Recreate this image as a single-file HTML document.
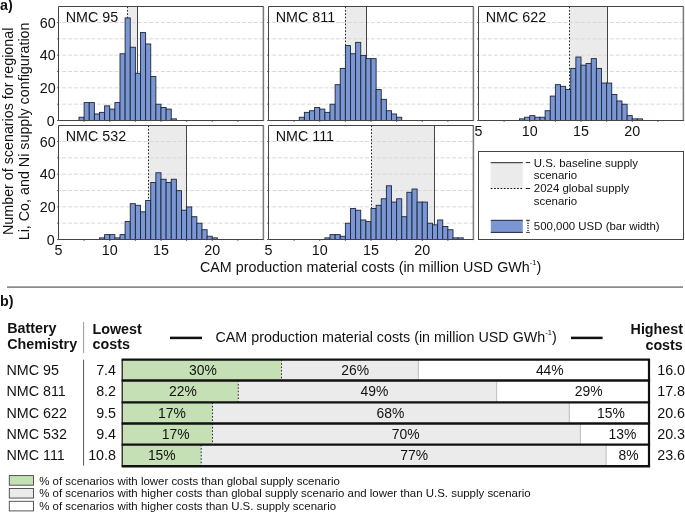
<!DOCTYPE html><html><head><meta charset="utf-8"><style>html,body{margin:0;padding:0;background:#fff;}svg{display:block;will-change:transform;}text{font-family:"Liberation Sans",sans-serif;fill:#111;}</style></head><body>
<svg width="685" height="513" viewBox="0 0 685 513">
<rect width="685" height="513" fill="#fff"/>
<text x="0.05" y="10.4" font-size="14.3" font-weight="bold">a)</text>
<rect x="127.50" y="6.50" width="10.00" height="114.00" fill="#ebebeb"/>
<line x1="57.00" x2="58.50" y1="120.50" y2="120.50" stroke="#444444" stroke-width="0.8"/>
<line x1="59.50" x2="263.50" y1="104.17" y2="104.17" stroke="#d8d8d8" stroke-width="1" stroke-dasharray="3.9 1.9" stroke-dashoffset="3.0"/>
<line x1="57.00" x2="58.50" y1="104.17" y2="104.17" stroke="#444444" stroke-width="0.8"/>
<line x1="59.50" x2="263.50" y1="87.83" y2="87.83" stroke="#d8d8d8" stroke-width="1" stroke-dasharray="3.9 1.9" stroke-dashoffset="3.0"/>
<line x1="57.00" x2="58.50" y1="87.83" y2="87.83" stroke="#444444" stroke-width="0.8"/>
<line x1="59.50" x2="263.50" y1="71.50" y2="71.50" stroke="#d8d8d8" stroke-width="1" stroke-dasharray="3.9 1.9" stroke-dashoffset="3.0"/>
<line x1="57.00" x2="58.50" y1="71.50" y2="71.50" stroke="#444444" stroke-width="0.8"/>
<line x1="59.50" x2="263.50" y1="55.17" y2="55.17" stroke="#d8d8d8" stroke-width="1" stroke-dasharray="3.9 1.9" stroke-dashoffset="3.0"/>
<line x1="57.00" x2="58.50" y1="55.17" y2="55.17" stroke="#444444" stroke-width="0.8"/>
<line x1="59.50" x2="263.50" y1="38.84" y2="38.84" stroke="#d8d8d8" stroke-width="1" stroke-dasharray="3.9 1.9" stroke-dashoffset="3.0"/>
<line x1="57.00" x2="58.50" y1="38.84" y2="38.84" stroke="#444444" stroke-width="0.8"/>
<line x1="59.50" x2="263.50" y1="22.50" y2="22.50" stroke="#d8d8d8" stroke-width="1" stroke-dasharray="3.9 1.9" stroke-dashoffset="3.0"/>
<line x1="57.00" x2="58.50" y1="22.50" y2="22.50" stroke="#444444" stroke-width="0.8"/>
<line x1="127.50" x2="127.50" y1="6.50" y2="120.50" stroke="#111" stroke-width="0.9" stroke-dasharray="1.7 1.7"/>
<line x1="137.50" x2="137.50" y1="6.50" y2="120.50" stroke="#444" stroke-width="1"/>
<rect x="79.00" y="117.24" width="5.12" height="3.26" fill="#7b97d3" stroke="#1c2538" stroke-width="0.9"/>
<rect x="84.12" y="102.59" width="5.12" height="17.91" fill="#7b97d3" stroke="#1c2538" stroke-width="0.9"/>
<rect x="89.25" y="102.59" width="5.12" height="17.91" fill="#7b97d3" stroke="#1c2538" stroke-width="0.9"/>
<rect x="94.38" y="113.99" width="5.12" height="6.51" fill="#7b97d3" stroke="#1c2538" stroke-width="0.9"/>
<rect x="99.50" y="112.36" width="5.12" height="8.14" fill="#7b97d3" stroke="#1c2538" stroke-width="0.9"/>
<rect x="104.62" y="105.85" width="5.12" height="14.65" fill="#7b97d3" stroke="#1c2538" stroke-width="0.9"/>
<rect x="109.75" y="109.10" width="5.12" height="11.40" fill="#7b97d3" stroke="#1c2538" stroke-width="0.9"/>
<rect x="114.88" y="102.59" width="5.12" height="17.91" fill="#7b97d3" stroke="#1c2538" stroke-width="0.9"/>
<rect x="120.00" y="53.75" width="5.12" height="66.75" fill="#7b97d3" stroke="#1c2538" stroke-width="0.9"/>
<rect x="125.12" y="17.94" width="5.12" height="102.56" fill="#7b97d3" stroke="#1c2538" stroke-width="0.9"/>
<rect x="130.25" y="47.24" width="5.12" height="73.26" fill="#7b97d3" stroke="#1c2538" stroke-width="0.9"/>
<rect x="135.38" y="73.29" width="5.12" height="47.21" fill="#7b97d3" stroke="#1c2538" stroke-width="0.9"/>
<rect x="140.50" y="32.59" width="5.12" height="87.91" fill="#7b97d3" stroke="#1c2538" stroke-width="0.9"/>
<rect x="145.62" y="43.98" width="5.12" height="76.52" fill="#7b97d3" stroke="#1c2538" stroke-width="0.9"/>
<rect x="150.75" y="76.54" width="5.12" height="43.96" fill="#7b97d3" stroke="#1c2538" stroke-width="0.9"/>
<rect x="155.88" y="104.22" width="5.12" height="16.28" fill="#7b97d3" stroke="#1c2538" stroke-width="0.9"/>
<rect x="161.00" y="107.48" width="5.12" height="13.02" fill="#7b97d3" stroke="#1c2538" stroke-width="0.9"/>
<rect x="166.12" y="109.10" width="5.12" height="11.40" fill="#7b97d3" stroke="#1c2538" stroke-width="0.9"/>
<rect x="171.25" y="118.87" width="5.12" height="1.63" fill="#7b97d3" stroke="#1c2538" stroke-width="0.9"/>
<line x1="84.12" x2="84.12" y1="120.50" y2="122.00" stroke="#444444" stroke-width="0.8"/>
<line x1="109.75" x2="109.75" y1="120.50" y2="122.00" stroke="#444444" stroke-width="0.8"/>
<line x1="135.38" x2="135.38" y1="120.50" y2="122.00" stroke="#444444" stroke-width="0.8"/>
<line x1="161.00" x2="161.00" y1="120.50" y2="122.00" stroke="#444444" stroke-width="0.8"/>
<line x1="186.62" x2="186.62" y1="120.50" y2="122.00" stroke="#444444" stroke-width="0.8"/>
<line x1="212.25" x2="212.25" y1="120.50" y2="122.00" stroke="#444444" stroke-width="0.8"/>
<line x1="237.88" x2="237.88" y1="120.50" y2="122.00" stroke="#444444" stroke-width="0.8"/>
<line x1="263.40" x2="263.40" y1="6.50" y2="121.10" stroke="#7a7a7a" stroke-width="1.5"/>
<path d="M263.50,6.50 H58.50 V120.50 H263.50" fill="none" stroke="#444444" stroke-width="1"/>
<text x="65.80" y="22.10" font-size="14.3">NMC 95</text>
<text x="54.80" y="125.50" font-size="14.3" text-anchor="end">0</text>
<text x="55.70" y="92.83" font-size="14.3" text-anchor="end">20</text>
<text x="55.70" y="60.17" font-size="14.3" text-anchor="end">40</text>
<text x="55.70" y="27.50" font-size="14.3" text-anchor="end">60</text>
<rect x="345.50" y="6.50" width="21.00" height="114.00" fill="#ebebeb"/>
<line x1="267.00" x2="268.50" y1="120.50" y2="120.50" stroke="#444444" stroke-width="0.8"/>
<line x1="269.50" x2="473.50" y1="104.17" y2="104.17" stroke="#d8d8d8" stroke-width="1" stroke-dasharray="3.9 1.9" stroke-dashoffset="3.0"/>
<line x1="267.00" x2="268.50" y1="104.17" y2="104.17" stroke="#444444" stroke-width="0.8"/>
<line x1="269.50" x2="473.50" y1="87.83" y2="87.83" stroke="#d8d8d8" stroke-width="1" stroke-dasharray="3.9 1.9" stroke-dashoffset="3.0"/>
<line x1="267.00" x2="268.50" y1="87.83" y2="87.83" stroke="#444444" stroke-width="0.8"/>
<line x1="269.50" x2="473.50" y1="71.50" y2="71.50" stroke="#d8d8d8" stroke-width="1" stroke-dasharray="3.9 1.9" stroke-dashoffset="3.0"/>
<line x1="267.00" x2="268.50" y1="71.50" y2="71.50" stroke="#444444" stroke-width="0.8"/>
<line x1="269.50" x2="473.50" y1="55.17" y2="55.17" stroke="#d8d8d8" stroke-width="1" stroke-dasharray="3.9 1.9" stroke-dashoffset="3.0"/>
<line x1="267.00" x2="268.50" y1="55.17" y2="55.17" stroke="#444444" stroke-width="0.8"/>
<line x1="269.50" x2="473.50" y1="38.84" y2="38.84" stroke="#d8d8d8" stroke-width="1" stroke-dasharray="3.9 1.9" stroke-dashoffset="3.0"/>
<line x1="267.00" x2="268.50" y1="38.84" y2="38.84" stroke="#444444" stroke-width="0.8"/>
<line x1="269.50" x2="473.50" y1="22.50" y2="22.50" stroke="#d8d8d8" stroke-width="1" stroke-dasharray="3.9 1.9" stroke-dashoffset="3.0"/>
<line x1="267.00" x2="268.50" y1="22.50" y2="22.50" stroke="#444444" stroke-width="0.8"/>
<line x1="345.50" x2="345.50" y1="6.50" y2="120.50" stroke="#111" stroke-width="0.9" stroke-dasharray="1.7 1.7"/>
<line x1="366.50" x2="366.50" y1="6.50" y2="120.50" stroke="#444" stroke-width="1"/>
<rect x="299.25" y="117.24" width="5.12" height="3.26" fill="#7b97d3" stroke="#1c2538" stroke-width="0.9"/>
<rect x="304.38" y="112.36" width="5.12" height="8.14" fill="#7b97d3" stroke="#1c2538" stroke-width="0.9"/>
<rect x="309.50" y="110.73" width="5.12" height="9.77" fill="#7b97d3" stroke="#1c2538" stroke-width="0.9"/>
<rect x="314.62" y="107.48" width="5.12" height="13.02" fill="#7b97d3" stroke="#1c2538" stroke-width="0.9"/>
<rect x="319.75" y="109.10" width="5.12" height="11.40" fill="#7b97d3" stroke="#1c2538" stroke-width="0.9"/>
<rect x="324.88" y="112.36" width="5.12" height="8.14" fill="#7b97d3" stroke="#1c2538" stroke-width="0.9"/>
<rect x="330.00" y="104.22" width="5.12" height="16.28" fill="#7b97d3" stroke="#1c2538" stroke-width="0.9"/>
<rect x="335.12" y="84.68" width="5.12" height="35.82" fill="#7b97d3" stroke="#1c2538" stroke-width="0.9"/>
<rect x="340.25" y="68.40" width="5.12" height="52.10" fill="#7b97d3" stroke="#1c2538" stroke-width="0.9"/>
<rect x="345.38" y="45.61" width="5.12" height="74.89" fill="#7b97d3" stroke="#1c2538" stroke-width="0.9"/>
<rect x="350.50" y="53.75" width="5.12" height="66.75" fill="#7b97d3" stroke="#1c2538" stroke-width="0.9"/>
<rect x="355.62" y="42.36" width="5.12" height="78.14" fill="#7b97d3" stroke="#1c2538" stroke-width="0.9"/>
<rect x="360.75" y="55.38" width="5.12" height="65.12" fill="#7b97d3" stroke="#1c2538" stroke-width="0.9"/>
<rect x="365.88" y="58.64" width="5.12" height="61.86" fill="#7b97d3" stroke="#1c2538" stroke-width="0.9"/>
<rect x="371.00" y="58.64" width="5.12" height="61.86" fill="#7b97d3" stroke="#1c2538" stroke-width="0.9"/>
<rect x="376.12" y="89.57" width="5.12" height="30.93" fill="#7b97d3" stroke="#1c2538" stroke-width="0.9"/>
<rect x="381.25" y="99.34" width="5.12" height="21.16" fill="#7b97d3" stroke="#1c2538" stroke-width="0.9"/>
<rect x="386.38" y="110.73" width="5.12" height="9.77" fill="#7b97d3" stroke="#1c2538" stroke-width="0.9"/>
<rect x="391.50" y="113.99" width="5.12" height="6.51" fill="#7b97d3" stroke="#1c2538" stroke-width="0.9"/>
<rect x="396.62" y="117.24" width="5.12" height="3.26" fill="#7b97d3" stroke="#1c2538" stroke-width="0.9"/>
<line x1="294.12" x2="294.12" y1="120.50" y2="122.00" stroke="#444444" stroke-width="0.8"/>
<line x1="319.75" x2="319.75" y1="120.50" y2="122.00" stroke="#444444" stroke-width="0.8"/>
<line x1="345.38" x2="345.38" y1="120.50" y2="122.00" stroke="#444444" stroke-width="0.8"/>
<line x1="371.00" x2="371.00" y1="120.50" y2="122.00" stroke="#444444" stroke-width="0.8"/>
<line x1="396.62" x2="396.62" y1="120.50" y2="122.00" stroke="#444444" stroke-width="0.8"/>
<line x1="422.25" x2="422.25" y1="120.50" y2="122.00" stroke="#444444" stroke-width="0.8"/>
<line x1="447.88" x2="447.88" y1="120.50" y2="122.00" stroke="#444444" stroke-width="0.8"/>
<line x1="473.40" x2="473.40" y1="6.50" y2="121.10" stroke="#7a7a7a" stroke-width="1.5"/>
<path d="M473.50,6.50 H268.50 V120.50 H473.50" fill="none" stroke="#444444" stroke-width="1"/>
<text x="275.80" y="22.10" font-size="14.3">NMC 811</text>
<rect x="569.50" y="6.50" width="38.00" height="114.00" fill="#ebebeb"/>
<line x1="477.00" x2="478.50" y1="120.50" y2="120.50" stroke="#444444" stroke-width="0.8"/>
<line x1="479.50" x2="683.50" y1="104.17" y2="104.17" stroke="#d8d8d8" stroke-width="1" stroke-dasharray="3.9 1.9" stroke-dashoffset="3.0"/>
<line x1="477.00" x2="478.50" y1="104.17" y2="104.17" stroke="#444444" stroke-width="0.8"/>
<line x1="479.50" x2="683.50" y1="87.83" y2="87.83" stroke="#d8d8d8" stroke-width="1" stroke-dasharray="3.9 1.9" stroke-dashoffset="3.0"/>
<line x1="477.00" x2="478.50" y1="87.83" y2="87.83" stroke="#444444" stroke-width="0.8"/>
<line x1="479.50" x2="683.50" y1="71.50" y2="71.50" stroke="#d8d8d8" stroke-width="1" stroke-dasharray="3.9 1.9" stroke-dashoffset="3.0"/>
<line x1="477.00" x2="478.50" y1="71.50" y2="71.50" stroke="#444444" stroke-width="0.8"/>
<line x1="479.50" x2="683.50" y1="55.17" y2="55.17" stroke="#d8d8d8" stroke-width="1" stroke-dasharray="3.9 1.9" stroke-dashoffset="3.0"/>
<line x1="477.00" x2="478.50" y1="55.17" y2="55.17" stroke="#444444" stroke-width="0.8"/>
<line x1="479.50" x2="683.50" y1="38.84" y2="38.84" stroke="#d8d8d8" stroke-width="1" stroke-dasharray="3.9 1.9" stroke-dashoffset="3.0"/>
<line x1="477.00" x2="478.50" y1="38.84" y2="38.84" stroke="#444444" stroke-width="0.8"/>
<line x1="479.50" x2="683.50" y1="22.50" y2="22.50" stroke="#d8d8d8" stroke-width="1" stroke-dasharray="3.9 1.9" stroke-dashoffset="3.0"/>
<line x1="477.00" x2="478.50" y1="22.50" y2="22.50" stroke="#444444" stroke-width="0.8"/>
<line x1="569.50" x2="569.50" y1="6.50" y2="120.50" stroke="#111" stroke-width="0.9" stroke-dasharray="1.7 1.7"/>
<line x1="607.50" x2="607.50" y1="6.50" y2="120.50" stroke="#444" stroke-width="1"/>
<rect x="519.50" y="118.87" width="5.12" height="1.63" fill="#7b97d3" stroke="#1c2538" stroke-width="0.9"/>
<rect x="524.62" y="117.24" width="5.12" height="3.26" fill="#7b97d3" stroke="#1c2538" stroke-width="0.9"/>
<rect x="529.75" y="115.62" width="5.12" height="4.88" fill="#7b97d3" stroke="#1c2538" stroke-width="0.9"/>
<rect x="534.88" y="117.24" width="5.12" height="3.26" fill="#7b97d3" stroke="#1c2538" stroke-width="0.9"/>
<rect x="540.00" y="117.24" width="5.12" height="3.26" fill="#7b97d3" stroke="#1c2538" stroke-width="0.9"/>
<rect x="545.12" y="110.73" width="5.12" height="9.77" fill="#7b97d3" stroke="#1c2538" stroke-width="0.9"/>
<rect x="550.25" y="96.08" width="5.12" height="24.42" fill="#7b97d3" stroke="#1c2538" stroke-width="0.9"/>
<rect x="555.38" y="84.68" width="5.12" height="35.82" fill="#7b97d3" stroke="#1c2538" stroke-width="0.9"/>
<rect x="560.50" y="86.31" width="5.12" height="34.19" fill="#7b97d3" stroke="#1c2538" stroke-width="0.9"/>
<rect x="565.62" y="89.57" width="5.12" height="30.93" fill="#7b97d3" stroke="#1c2538" stroke-width="0.9"/>
<rect x="570.75" y="68.40" width="5.12" height="52.10" fill="#7b97d3" stroke="#1c2538" stroke-width="0.9"/>
<rect x="575.88" y="57.01" width="5.12" height="63.49" fill="#7b97d3" stroke="#1c2538" stroke-width="0.9"/>
<rect x="581.00" y="65.15" width="5.12" height="55.35" fill="#7b97d3" stroke="#1c2538" stroke-width="0.9"/>
<rect x="586.12" y="63.52" width="5.12" height="56.98" fill="#7b97d3" stroke="#1c2538" stroke-width="0.9"/>
<rect x="591.25" y="58.64" width="5.12" height="61.86" fill="#7b97d3" stroke="#1c2538" stroke-width="0.9"/>
<rect x="596.38" y="68.40" width="5.12" height="52.10" fill="#7b97d3" stroke="#1c2538" stroke-width="0.9"/>
<rect x="601.50" y="83.06" width="5.12" height="37.44" fill="#7b97d3" stroke="#1c2538" stroke-width="0.9"/>
<rect x="606.62" y="83.06" width="5.12" height="37.44" fill="#7b97d3" stroke="#1c2538" stroke-width="0.9"/>
<rect x="611.75" y="94.45" width="5.12" height="26.05" fill="#7b97d3" stroke="#1c2538" stroke-width="0.9"/>
<rect x="616.88" y="100.96" width="5.12" height="19.54" fill="#7b97d3" stroke="#1c2538" stroke-width="0.9"/>
<rect x="622.00" y="104.22" width="5.12" height="16.28" fill="#7b97d3" stroke="#1c2538" stroke-width="0.9"/>
<rect x="627.12" y="115.62" width="5.12" height="4.88" fill="#7b97d3" stroke="#1c2538" stroke-width="0.9"/>
<rect x="632.25" y="118.87" width="5.12" height="1.63" fill="#7b97d3" stroke="#1c2538" stroke-width="0.9"/>
<rect x="637.38" y="118.87" width="5.12" height="1.63" fill="#7b97d3" stroke="#1c2538" stroke-width="0.9"/>
<line x1="504.12" x2="504.12" y1="120.50" y2="122.00" stroke="#444444" stroke-width="0.8"/>
<line x1="529.75" x2="529.75" y1="120.50" y2="122.00" stroke="#444444" stroke-width="0.8"/>
<line x1="555.38" x2="555.38" y1="120.50" y2="122.00" stroke="#444444" stroke-width="0.8"/>
<line x1="581.00" x2="581.00" y1="120.50" y2="122.00" stroke="#444444" stroke-width="0.8"/>
<line x1="606.62" x2="606.62" y1="120.50" y2="122.00" stroke="#444444" stroke-width="0.8"/>
<line x1="632.25" x2="632.25" y1="120.50" y2="122.00" stroke="#444444" stroke-width="0.8"/>
<line x1="657.88" x2="657.88" y1="120.50" y2="122.00" stroke="#444444" stroke-width="0.8"/>
<line x1="683.40" x2="683.40" y1="6.50" y2="121.10" stroke="#7a7a7a" stroke-width="1.5"/>
<path d="M683.50,6.50 H478.50 V120.50 H683.50" fill="none" stroke="#444444" stroke-width="1"/>
<text x="485.80" y="22.10" font-size="14.3">NMC 622</text>
<text x="478.50" y="135.50" font-size="14.3" text-anchor="middle">5</text>
<text x="529.75" y="135.50" font-size="14.3" text-anchor="middle">10</text>
<text x="581.00" y="135.50" font-size="14.3" text-anchor="middle">15</text>
<text x="632.25" y="135.50" font-size="14.3" text-anchor="middle">20</text>
<rect x="148.50" y="125.50" width="38.00" height="114.00" fill="#ebebeb"/>
<line x1="57.00" x2="58.50" y1="239.50" y2="239.50" stroke="#444444" stroke-width="0.8"/>
<line x1="59.50" x2="263.50" y1="223.17" y2="223.17" stroke="#d8d8d8" stroke-width="1" stroke-dasharray="3.9 1.9" stroke-dashoffset="3.0"/>
<line x1="57.00" x2="58.50" y1="223.17" y2="223.17" stroke="#444444" stroke-width="0.8"/>
<line x1="59.50" x2="263.50" y1="206.83" y2="206.83" stroke="#d8d8d8" stroke-width="1" stroke-dasharray="3.9 1.9" stroke-dashoffset="3.0"/>
<line x1="57.00" x2="58.50" y1="206.83" y2="206.83" stroke="#444444" stroke-width="0.8"/>
<line x1="59.50" x2="263.50" y1="190.50" y2="190.50" stroke="#d8d8d8" stroke-width="1" stroke-dasharray="3.9 1.9" stroke-dashoffset="3.0"/>
<line x1="57.00" x2="58.50" y1="190.50" y2="190.50" stroke="#444444" stroke-width="0.8"/>
<line x1="59.50" x2="263.50" y1="174.17" y2="174.17" stroke="#d8d8d8" stroke-width="1" stroke-dasharray="3.9 1.9" stroke-dashoffset="3.0"/>
<line x1="57.00" x2="58.50" y1="174.17" y2="174.17" stroke="#444444" stroke-width="0.8"/>
<line x1="59.50" x2="263.50" y1="157.84" y2="157.84" stroke="#d8d8d8" stroke-width="1" stroke-dasharray="3.9 1.9" stroke-dashoffset="3.0"/>
<line x1="57.00" x2="58.50" y1="157.84" y2="157.84" stroke="#444444" stroke-width="0.8"/>
<line x1="59.50" x2="263.50" y1="141.50" y2="141.50" stroke="#d8d8d8" stroke-width="1" stroke-dasharray="3.9 1.9" stroke-dashoffset="3.0"/>
<line x1="57.00" x2="58.50" y1="141.50" y2="141.50" stroke="#444444" stroke-width="0.8"/>
<line x1="148.50" x2="148.50" y1="125.50" y2="239.50" stroke="#111" stroke-width="0.9" stroke-dasharray="1.7 1.7"/>
<line x1="186.50" x2="186.50" y1="125.50" y2="239.50" stroke="#444" stroke-width="1"/>
<rect x="99.50" y="237.87" width="5.12" height="1.63" fill="#7b97d3" stroke="#1c2538" stroke-width="0.9"/>
<rect x="104.62" y="234.62" width="5.12" height="4.88" fill="#7b97d3" stroke="#1c2538" stroke-width="0.9"/>
<rect x="109.75" y="234.62" width="5.12" height="4.88" fill="#7b97d3" stroke="#1c2538" stroke-width="0.9"/>
<rect x="114.88" y="237.87" width="5.12" height="1.63" fill="#7b97d3" stroke="#1c2538" stroke-width="0.9"/>
<rect x="120.00" y="234.62" width="5.12" height="4.88" fill="#7b97d3" stroke="#1c2538" stroke-width="0.9"/>
<rect x="125.12" y="221.59" width="5.12" height="17.91" fill="#7b97d3" stroke="#1c2538" stroke-width="0.9"/>
<rect x="130.25" y="203.68" width="5.12" height="35.82" fill="#7b97d3" stroke="#1c2538" stroke-width="0.9"/>
<rect x="135.38" y="205.31" width="5.12" height="34.19" fill="#7b97d3" stroke="#1c2538" stroke-width="0.9"/>
<rect x="140.50" y="211.82" width="5.12" height="27.68" fill="#7b97d3" stroke="#1c2538" stroke-width="0.9"/>
<rect x="145.62" y="200.43" width="5.12" height="39.07" fill="#7b97d3" stroke="#1c2538" stroke-width="0.9"/>
<rect x="150.75" y="182.52" width="5.12" height="56.98" fill="#7b97d3" stroke="#1c2538" stroke-width="0.9"/>
<rect x="155.88" y="172.75" width="5.12" height="66.75" fill="#7b97d3" stroke="#1c2538" stroke-width="0.9"/>
<rect x="161.00" y="179.26" width="5.12" height="60.24" fill="#7b97d3" stroke="#1c2538" stroke-width="0.9"/>
<rect x="166.12" y="182.52" width="5.12" height="56.98" fill="#7b97d3" stroke="#1c2538" stroke-width="0.9"/>
<rect x="171.25" y="179.26" width="5.12" height="60.24" fill="#7b97d3" stroke="#1c2538" stroke-width="0.9"/>
<rect x="176.38" y="190.66" width="5.12" height="48.84" fill="#7b97d3" stroke="#1c2538" stroke-width="0.9"/>
<rect x="181.50" y="210.20" width="5.12" height="29.30" fill="#7b97d3" stroke="#1c2538" stroke-width="0.9"/>
<rect x="186.62" y="206.94" width="5.12" height="32.56" fill="#7b97d3" stroke="#1c2538" stroke-width="0.9"/>
<rect x="191.75" y="216.71" width="5.12" height="22.79" fill="#7b97d3" stroke="#1c2538" stroke-width="0.9"/>
<rect x="196.88" y="223.22" width="5.12" height="16.28" fill="#7b97d3" stroke="#1c2538" stroke-width="0.9"/>
<rect x="202.00" y="229.73" width="5.12" height="9.77" fill="#7b97d3" stroke="#1c2538" stroke-width="0.9"/>
<rect x="207.12" y="236.24" width="5.12" height="3.26" fill="#7b97d3" stroke="#1c2538" stroke-width="0.9"/>
<rect x="212.25" y="237.87" width="5.12" height="1.63" fill="#7b97d3" stroke="#1c2538" stroke-width="0.9"/>
<line x1="84.12" x2="84.12" y1="239.50" y2="241.00" stroke="#444444" stroke-width="0.8"/>
<line x1="109.75" x2="109.75" y1="239.50" y2="241.00" stroke="#444444" stroke-width="0.8"/>
<line x1="135.38" x2="135.38" y1="239.50" y2="241.00" stroke="#444444" stroke-width="0.8"/>
<line x1="161.00" x2="161.00" y1="239.50" y2="241.00" stroke="#444444" stroke-width="0.8"/>
<line x1="186.62" x2="186.62" y1="239.50" y2="241.00" stroke="#444444" stroke-width="0.8"/>
<line x1="212.25" x2="212.25" y1="239.50" y2="241.00" stroke="#444444" stroke-width="0.8"/>
<line x1="237.88" x2="237.88" y1="239.50" y2="241.00" stroke="#444444" stroke-width="0.8"/>
<line x1="263.40" x2="263.40" y1="125.50" y2="240.10" stroke="#7a7a7a" stroke-width="1.5"/>
<path d="M263.50,125.50 H58.50 V239.50 H263.50" fill="none" stroke="#444444" stroke-width="1"/>
<text x="65.80" y="141.10" font-size="14.3">NMC 532</text>
<text x="54.80" y="244.50" font-size="14.3" text-anchor="end">0</text>
<text x="55.70" y="211.83" font-size="14.3" text-anchor="end">20</text>
<text x="55.70" y="179.17" font-size="14.3" text-anchor="end">40</text>
<text x="55.70" y="146.50" font-size="14.3" text-anchor="end">60</text>
<text x="58.50" y="254.50" font-size="14.3" text-anchor="middle">5</text>
<text x="109.75" y="254.50" font-size="14.3" text-anchor="middle">10</text>
<text x="161.00" y="254.50" font-size="14.3" text-anchor="middle">15</text>
<text x="212.25" y="254.50" font-size="14.3" text-anchor="middle">20</text>
<rect x="371.50" y="125.50" width="63.00" height="114.00" fill="#ebebeb"/>
<line x1="267.00" x2="268.50" y1="239.50" y2="239.50" stroke="#444444" stroke-width="0.8"/>
<line x1="269.50" x2="473.50" y1="223.17" y2="223.17" stroke="#d8d8d8" stroke-width="1" stroke-dasharray="3.9 1.9" stroke-dashoffset="3.0"/>
<line x1="267.00" x2="268.50" y1="223.17" y2="223.17" stroke="#444444" stroke-width="0.8"/>
<line x1="269.50" x2="473.50" y1="206.83" y2="206.83" stroke="#d8d8d8" stroke-width="1" stroke-dasharray="3.9 1.9" stroke-dashoffset="3.0"/>
<line x1="267.00" x2="268.50" y1="206.83" y2="206.83" stroke="#444444" stroke-width="0.8"/>
<line x1="269.50" x2="473.50" y1="190.50" y2="190.50" stroke="#d8d8d8" stroke-width="1" stroke-dasharray="3.9 1.9" stroke-dashoffset="3.0"/>
<line x1="267.00" x2="268.50" y1="190.50" y2="190.50" stroke="#444444" stroke-width="0.8"/>
<line x1="269.50" x2="473.50" y1="174.17" y2="174.17" stroke="#d8d8d8" stroke-width="1" stroke-dasharray="3.9 1.9" stroke-dashoffset="3.0"/>
<line x1="267.00" x2="268.50" y1="174.17" y2="174.17" stroke="#444444" stroke-width="0.8"/>
<line x1="269.50" x2="473.50" y1="157.84" y2="157.84" stroke="#d8d8d8" stroke-width="1" stroke-dasharray="3.9 1.9" stroke-dashoffset="3.0"/>
<line x1="267.00" x2="268.50" y1="157.84" y2="157.84" stroke="#444444" stroke-width="0.8"/>
<line x1="269.50" x2="473.50" y1="141.50" y2="141.50" stroke="#d8d8d8" stroke-width="1" stroke-dasharray="3.9 1.9" stroke-dashoffset="3.0"/>
<line x1="267.00" x2="268.50" y1="141.50" y2="141.50" stroke="#444444" stroke-width="0.8"/>
<line x1="371.50" x2="371.50" y1="125.50" y2="239.50" stroke="#111" stroke-width="0.9" stroke-dasharray="1.7 1.7"/>
<line x1="434.50" x2="434.50" y1="125.50" y2="239.50" stroke="#444" stroke-width="1"/>
<rect x="324.88" y="237.87" width="5.12" height="1.63" fill="#7b97d3" stroke="#1c2538" stroke-width="0.9"/>
<rect x="330.00" y="234.62" width="5.12" height="4.88" fill="#7b97d3" stroke="#1c2538" stroke-width="0.9"/>
<rect x="335.12" y="234.62" width="5.12" height="4.88" fill="#7b97d3" stroke="#1c2538" stroke-width="0.9"/>
<rect x="340.25" y="236.24" width="5.12" height="3.26" fill="#7b97d3" stroke="#1c2538" stroke-width="0.9"/>
<rect x="345.38" y="223.22" width="5.12" height="16.28" fill="#7b97d3" stroke="#1c2538" stroke-width="0.9"/>
<rect x="350.50" y="208.57" width="5.12" height="30.93" fill="#7b97d3" stroke="#1c2538" stroke-width="0.9"/>
<rect x="355.62" y="210.20" width="5.12" height="29.30" fill="#7b97d3" stroke="#1c2538" stroke-width="0.9"/>
<rect x="360.75" y="219.96" width="5.12" height="19.54" fill="#7b97d3" stroke="#1c2538" stroke-width="0.9"/>
<rect x="365.88" y="221.59" width="5.12" height="17.91" fill="#7b97d3" stroke="#1c2538" stroke-width="0.9"/>
<rect x="371.00" y="208.57" width="5.12" height="30.93" fill="#7b97d3" stroke="#1c2538" stroke-width="0.9"/>
<rect x="376.12" y="205.31" width="5.12" height="34.19" fill="#7b97d3" stroke="#1c2538" stroke-width="0.9"/>
<rect x="381.25" y="198.80" width="5.12" height="40.70" fill="#7b97d3" stroke="#1c2538" stroke-width="0.9"/>
<rect x="386.38" y="185.78" width="5.12" height="53.72" fill="#7b97d3" stroke="#1c2538" stroke-width="0.9"/>
<rect x="391.50" y="202.06" width="5.12" height="37.44" fill="#7b97d3" stroke="#1c2538" stroke-width="0.9"/>
<rect x="396.62" y="198.80" width="5.12" height="40.70" fill="#7b97d3" stroke="#1c2538" stroke-width="0.9"/>
<rect x="401.75" y="216.71" width="5.12" height="22.79" fill="#7b97d3" stroke="#1c2538" stroke-width="0.9"/>
<rect x="406.88" y="192.29" width="5.12" height="47.21" fill="#7b97d3" stroke="#1c2538" stroke-width="0.9"/>
<rect x="412.00" y="189.03" width="5.12" height="50.47" fill="#7b97d3" stroke="#1c2538" stroke-width="0.9"/>
<rect x="417.12" y="202.06" width="5.12" height="37.44" fill="#7b97d3" stroke="#1c2538" stroke-width="0.9"/>
<rect x="422.25" y="202.06" width="5.12" height="37.44" fill="#7b97d3" stroke="#1c2538" stroke-width="0.9"/>
<rect x="427.38" y="223.22" width="5.12" height="16.28" fill="#7b97d3" stroke="#1c2538" stroke-width="0.9"/>
<rect x="432.50" y="224.85" width="5.12" height="14.65" fill="#7b97d3" stroke="#1c2538" stroke-width="0.9"/>
<rect x="437.62" y="219.96" width="5.12" height="19.54" fill="#7b97d3" stroke="#1c2538" stroke-width="0.9"/>
<rect x="442.75" y="226.48" width="5.12" height="13.02" fill="#7b97d3" stroke="#1c2538" stroke-width="0.9"/>
<rect x="447.88" y="229.73" width="5.12" height="9.77" fill="#7b97d3" stroke="#1c2538" stroke-width="0.9"/>
<rect x="453.00" y="237.87" width="5.12" height="1.63" fill="#7b97d3" stroke="#1c2538" stroke-width="0.9"/>
<rect x="458.12" y="237.87" width="5.12" height="1.63" fill="#7b97d3" stroke="#1c2538" stroke-width="0.9"/>
<line x1="294.12" x2="294.12" y1="239.50" y2="241.00" stroke="#444444" stroke-width="0.8"/>
<line x1="319.75" x2="319.75" y1="239.50" y2="241.00" stroke="#444444" stroke-width="0.8"/>
<line x1="345.38" x2="345.38" y1="239.50" y2="241.00" stroke="#444444" stroke-width="0.8"/>
<line x1="371.00" x2="371.00" y1="239.50" y2="241.00" stroke="#444444" stroke-width="0.8"/>
<line x1="396.62" x2="396.62" y1="239.50" y2="241.00" stroke="#444444" stroke-width="0.8"/>
<line x1="422.25" x2="422.25" y1="239.50" y2="241.00" stroke="#444444" stroke-width="0.8"/>
<line x1="447.88" x2="447.88" y1="239.50" y2="241.00" stroke="#444444" stroke-width="0.8"/>
<line x1="473.40" x2="473.40" y1="125.50" y2="240.10" stroke="#7a7a7a" stroke-width="1.5"/>
<path d="M473.50,125.50 H268.50 V239.50 H473.50" fill="none" stroke="#444444" stroke-width="1"/>
<text x="275.80" y="141.10" font-size="14.3">NMC 111</text>
<text x="268.50" y="254.50" font-size="14.3" text-anchor="middle">5</text>
<text x="319.75" y="254.50" font-size="14.3" text-anchor="middle">10</text>
<text x="371.00" y="254.50" font-size="14.3" text-anchor="middle">15</text>
<text x="422.25" y="254.50" font-size="14.3" text-anchor="middle">20</text>
<rect x="478.5" y="151.5" width="205" height="88" fill="none" stroke="#444" stroke-width="1"/>
<rect x="490.7" y="162.7" width="32.1" height="25.8" fill="#ebebeb"/>
<line x1="490.7" x2="522.8" y1="162.7" y2="162.7" stroke="#222" stroke-width="1"/>
<line x1="490.7" x2="522.8" y1="188.5" y2="188.5" stroke="#111" stroke-width="1" stroke-dasharray="1.7 1.6"/>
<line x1="525.8" x2="530.1" y1="162.6" y2="162.6" stroke="#222" stroke-width="1"/>
<line x1="525.8" x2="530.1" y1="188.5" y2="188.5" stroke="#222" stroke-width="1"/>
<text x="533.8" y="166.7" font-size="11.45">U.S. baseline supply</text>
<text x="533.8" y="179.3" font-size="11.45">scenario</text>
<text x="533.8" y="192.2" font-size="11.45">2024 global supply</text>
<text x="533.8" y="204.8" font-size="11.45">scenario</text>
<rect x="490.8" y="220.3" width="32" height="12.1" fill="#7b97d3"/>
<line x1="490.8" x2="522.8" y1="220.3" y2="220.3" stroke="#1c2538" stroke-width="1"/>
<line x1="490.8" x2="522.8" y1="232.4" y2="232.4" stroke="#1c2538" stroke-width="1"/>
<line x1="528" x2="528" y1="220.3" y2="232.4" stroke="#111" stroke-width="1.2" stroke-dasharray="1.2 1.2"/>
<line x1="526.1" x2="529.9" y1="220.3" y2="220.3" stroke="#222" stroke-width="0.9"/>
<line x1="526.1" x2="529.9" y1="232.4" y2="232.4" stroke="#222" stroke-width="0.9"/>
<text x="533.8" y="230.3" font-size="11.45">500,000 USD (bar width)</text>
<text transform="translate(12.8,131.3) rotate(-90)" font-size="14.3" text-anchor="middle">Number of scenarios for regional</text>
<text transform="translate(28.9,131.4) rotate(-90)" font-size="14.3" text-anchor="middle">Li, Co, and Ni supply configuration</text>
<text x="200.0" y="271.5" font-size="14.3">CAM production material costs (in million USD GWh<tspan font-size="7.5" dy="-6.5">-1</tspan><tspan dy="6.5">)</tspan></text>
<line x1="7" x2="683" y1="287.1" y2="287.1" stroke="#8c8c8c" stroke-width="1.7"/>
<text x="0" y="305.8" font-size="14.3" font-weight="bold">b)</text>
<text x="7.2" y="333.4" font-size="14.3" font-weight="bold">Battery</text>
<text x="7.2" y="348.8" font-size="14.3" font-weight="bold">Chemistry</text>
<line x1="83.6" x2="83.6" y1="322" y2="353" stroke="#999" stroke-width="1"/>
<text x="92.5" y="333.6" font-size="14.3" font-weight="bold">Lowest</text>
<text x="92.5" y="348.6" font-size="14.3" font-weight="bold">costs</text>
<line x1="170" x2="202" y1="337.9" y2="337.9" stroke="#111" stroke-width="2.5"/>
<text x="215.5" y="341.9" font-size="14.3">CAM production material costs (in million USD GWh<tspan font-size="7.5" dy="-6.5">-1</tspan><tspan dy="6.5">)</tspan></text>
<line x1="571" x2="602.6" y1="337.9" y2="337.9" stroke="#111" stroke-width="2.5"/>
<text x="683.0" y="334.1" font-size="14.3" font-weight="bold" text-anchor="end">Highest</text>
<text x="682.8" y="349.7" font-size="14.3" font-weight="bold" text-anchor="end">costs</text>
<line x1="83.6" x2="83.6" y1="359.7" y2="465.6" stroke="#555" stroke-width="1"/>
<rect x="122.2" y="359.70" width="159.30" height="20.80" fill="#c5e0b4"/>
<rect x="281.50" y="359.70" width="136.90" height="20.80" fill="#ebebeb"/>
<line x1="281.50" x2="281.50" y1="359.70" y2="380.50" stroke="#111" stroke-width="0.9" stroke-dasharray="1.6 1.8"/>
<line x1="418.40" x2="418.40" y1="359.70" y2="380.50" stroke="#bdbdbd" stroke-width="1"/>
<text x="6.5" y="374.70" font-size="14.3">NMC 95</text>
<text x="116.0" y="374.70" font-size="14.3" text-anchor="end">7.4</text>
<text x="657.2" y="374.70" font-size="14.3">16.0</text>
<text x="203.00" y="375.00" font-size="13.9" text-anchor="middle">30%</text>
<text x="355.20" y="375.00" font-size="13.9" text-anchor="middle">26%</text>
<text x="549.80" y="375.00" font-size="13.9" text-anchor="middle">44%</text>
<rect x="122.2" y="380.50" width="116.10" height="21.90" fill="#c5e0b4"/>
<rect x="238.30" y="380.50" width="258.40" height="21.90" fill="#ebebeb"/>
<line x1="238.30" x2="238.30" y1="380.50" y2="402.40" stroke="#111" stroke-width="0.9" stroke-dasharray="1.6 1.8"/>
<line x1="496.70" x2="496.70" y1="380.50" y2="402.40" stroke="#bdbdbd" stroke-width="1"/>
<text x="6.5" y="396.05" font-size="14.3">NMC 811</text>
<text x="116.0" y="396.05" font-size="14.3" text-anchor="end">8.2</text>
<text x="657.2" y="396.05" font-size="14.3">17.8</text>
<text x="182.90" y="396.35" font-size="13.9" text-anchor="middle">22%</text>
<text x="374.50" y="396.35" font-size="13.9" text-anchor="middle">49%</text>
<text x="588.60" y="396.35" font-size="13.9" text-anchor="middle">29%</text>
<rect x="122.2" y="402.40" width="90.30" height="21.10" fill="#c5e0b4"/>
<rect x="212.50" y="402.40" width="356.80" height="21.10" fill="#ebebeb"/>
<line x1="212.50" x2="212.50" y1="402.40" y2="423.50" stroke="#111" stroke-width="0.9" stroke-dasharray="1.6 1.8"/>
<line x1="569.30" x2="569.30" y1="402.40" y2="423.50" stroke="#bdbdbd" stroke-width="1"/>
<text x="6.5" y="417.55" font-size="14.3">NMC 622</text>
<text x="116.0" y="417.55" font-size="14.3" text-anchor="end">9.5</text>
<text x="657.2" y="417.55" font-size="14.3">20.6</text>
<text x="172.00" y="417.85" font-size="13.9" text-anchor="middle">17%</text>
<text x="390.40" y="417.85" font-size="13.9" text-anchor="middle">68%</text>
<text x="610.90" y="417.85" font-size="13.9" text-anchor="middle">15%</text>
<rect x="122.2" y="423.50" width="90.30" height="21.15" fill="#c5e0b4"/>
<rect x="212.50" y="423.50" width="367.90" height="21.15" fill="#ebebeb"/>
<line x1="212.50" x2="212.50" y1="423.50" y2="444.65" stroke="#111" stroke-width="0.9" stroke-dasharray="1.6 1.8"/>
<line x1="580.40" x2="580.40" y1="423.50" y2="444.65" stroke="#bdbdbd" stroke-width="1"/>
<text x="6.5" y="438.68" font-size="14.3">NMC 532</text>
<text x="116.0" y="438.68" font-size="14.3" text-anchor="end">9.4</text>
<text x="657.2" y="438.68" font-size="14.3">20.3</text>
<text x="175.70" y="438.98" font-size="13.9" text-anchor="middle">17%</text>
<text x="405.60" y="438.98" font-size="13.9" text-anchor="middle">70%</text>
<text x="622.50" y="438.98" font-size="13.9" text-anchor="middle">13%</text>
<rect x="122.2" y="444.65" width="79.00" height="21.60" fill="#c5e0b4"/>
<rect x="201.20" y="444.65" width="404.90" height="21.60" fill="#ebebeb"/>
<line x1="201.20" x2="201.20" y1="444.65" y2="466.25" stroke="#111" stroke-width="0.9" stroke-dasharray="1.6 1.8"/>
<line x1="606.10" x2="606.10" y1="444.65" y2="466.25" stroke="#bdbdbd" stroke-width="1"/>
<text x="6.5" y="460.05" font-size="14.3">NMC 111</text>
<text x="116.0" y="460.05" font-size="14.3" text-anchor="end">10.8</text>
<text x="657.2" y="460.05" font-size="14.3">23.6</text>
<text x="161.80" y="460.35" font-size="13.9" text-anchor="middle">15%</text>
<text x="414.20" y="460.35" font-size="13.9" text-anchor="middle">77%</text>
<text x="628.60" y="460.35" font-size="13.9" text-anchor="middle">8%</text>
<line x1="121.60000000000001" x2="650.1" y1="359.70" y2="359.70" stroke="#111" stroke-width="2.2"/>
<line x1="121.60000000000001" x2="650.1" y1="380.50" y2="380.50" stroke="#111" stroke-width="2.3"/>
<line x1="121.60000000000001" x2="650.1" y1="402.40" y2="402.40" stroke="#111" stroke-width="2.3"/>
<line x1="121.60000000000001" x2="650.1" y1="423.50" y2="423.50" stroke="#111" stroke-width="2.3"/>
<line x1="121.60000000000001" x2="650.1" y1="444.65" y2="444.65" stroke="#111" stroke-width="2.3"/>
<line x1="121.60000000000001" x2="650.1" y1="466.25" y2="466.25" stroke="#111" stroke-width="2.5"/>
<line x1="122.2" x2="122.2" y1="359.70" y2="466.25" stroke="#111" stroke-width="1.2"/>
<line x1="649.0" x2="649.0" y1="359.70" y2="466.25" stroke="#111" stroke-width="2.2"/>
<rect x="9.3" y="475.60" width="24.2" height="9.6" fill="#c5e0b4" stroke="#444" stroke-width="0.9"/>
<text x="39.2" y="484.50" font-size="11.45">% of scenarios with lower costs than global supply scenario</text>
<rect x="9.3" y="488.45" width="24.2" height="9.6" fill="#ebebeb" stroke="#444" stroke-width="0.9"/>
<text x="39.2" y="497.35" font-size="11.45">% of scenarios with higher costs than global supply scenario and lower than U.S. supply scenario</text>
<rect x="9.3" y="501.30" width="24.2" height="9.6" fill="#ffffff" stroke="#444" stroke-width="0.9"/>
<text x="39.2" y="510.20" font-size="11.45">% of scenarios with higher costs than U.S. supply scenario</text>
</svg></body></html>
